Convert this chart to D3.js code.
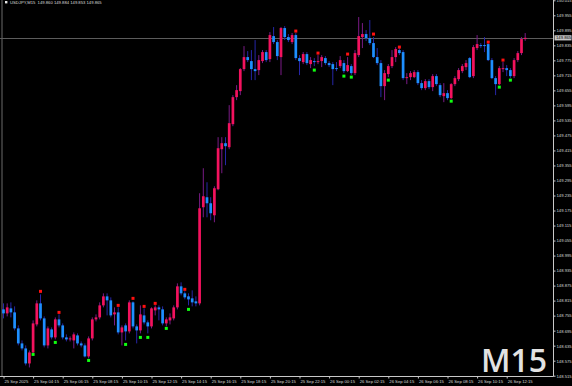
<!DOCTYPE html>
<html>
<head>
<meta charset="utf-8">
<script src="https://cdn.jsdelivr.net/npm/d3@7"></script>
<style>
body { margin: 0; background: #000; }
svg { display: block; }
</style>
</head>
<body>
<svg id="chart" width="572" height="386"></svg>
<script>
// USDJPY M15 bars, 25 Sep 02:15 .. 26 Sep 13:30 (one value per bar)
var opens = [
148.780,148.764,148.784,148.768,148.704,148.644,148.624,148.564,148.608,148.720,
148.804,148.744,148.636,148.700,148.668,148.740,148.716,148.668,148.660,148.656,
148.676,148.644,148.636,148.592,148.664,148.740,148.748,148.796,148.832,148.816,
148.760,148.768,148.688,148.716,148.692,148.808,148.712,148.696,148.756,148.728,
148.712,148.776,148.788,148.780,148.724,148.736,148.744,148.788,148.872,148.844,
148.832,148.824,148.812,148.804,149.188,149.228,149.204,149.156,149.260,149.420,
149.444,149.428,149.520,149.628,149.652,149.740,149.788,149.772,149.740,149.736,
149.772,149.808,149.780,149.872,149.848,149.788,149.904,149.868,149.848,149.876,
149.784,149.768,149.800,149.760,149.772,149.768,149.772,149.784,149.764,149.760,
149.744,149.752,149.764,149.732,149.752,149.724,149.796,149.868,149.880,149.864,
149.844,149.788,149.764,149.672,149.720,149.752,149.788,149.816,149.808,149.704,
149.708,149.708,149.728,149.684,149.664,149.692,149.668,149.712,149.676,149.632,
149.644,149.624,149.680,149.700,149.732,149.748,149.784,149.712,149.824,149.836,
149.836,149.840,149.776,149.704,149.680,149.740,149.744,149.736,149.712,149.776,
149.804,149.860];
var highs = [
148.804,148.804,148.808,148.792,148.716,148.656,148.636,148.616,148.736,148.816,
148.840,148.752,148.712,148.708,148.748,148.760,148.724,148.680,148.672,148.688,
148.684,148.652,148.644,148.672,148.748,148.760,148.808,148.844,148.844,148.828,
148.788,148.788,148.716,148.724,148.816,148.812,148.720,148.796,148.784,148.736,
148.788,148.796,148.796,148.792,148.748,148.764,148.796,148.884,148.888,148.852,
148.844,148.856,148.832,149.244,149.344,149.288,149.228,149.272,149.468,149.468,
149.468,149.596,149.636,149.676,149.744,149.832,149.812,149.816,149.856,149.796,
149.816,149.816,149.888,149.908,149.856,149.908,149.912,149.880,149.884,149.884,
149.796,149.808,149.808,149.788,149.784,149.796,149.796,149.792,149.772,149.768,
149.768,149.792,149.776,149.788,149.760,149.816,149.948,149.924,149.896,149.936,
149.868,149.824,149.776,149.736,149.760,149.816,149.828,149.824,149.816,149.724,
149.732,149.736,149.736,149.696,149.700,149.700,149.720,149.720,149.684,149.684,
149.656,149.684,149.712,149.744,149.760,149.776,149.788,149.836,149.876,149.844,
149.868,149.844,149.784,149.712,149.752,149.768,149.756,149.744,149.784,149.812,
149.868,149.884];
var lows = [
148.744,148.752,148.748,148.696,148.636,148.616,148.556,148.548,148.604,148.712,
148.736,148.628,148.624,148.660,148.660,148.708,148.660,148.652,148.652,148.624,
148.636,148.628,148.588,148.584,148.656,148.732,148.740,148.788,148.756,148.748,
148.716,148.680,148.636,148.656,148.684,148.704,148.644,148.684,148.720,148.684,
148.704,148.756,148.736,148.716,148.712,148.720,148.736,148.780,148.836,148.820,
148.796,148.792,148.792,148.796,149.148,149.148,149.136,149.128,149.256,149.324,
149.356,149.420,149.512,149.616,149.636,149.732,149.768,149.696,149.696,149.716,
149.764,149.768,149.768,149.840,149.776,149.716,149.856,149.848,149.840,149.776,
149.716,149.760,149.756,149.744,149.752,149.760,149.748,149.756,149.748,149.676,
149.732,149.744,149.724,149.728,149.716,149.716,149.788,149.824,149.852,149.836,
149.784,149.756,149.628,149.616,149.708,149.744,149.768,149.796,149.696,149.680,
149.696,149.704,149.676,149.656,149.656,149.660,149.652,149.672,149.628,149.608,
149.616,149.620,149.672,149.692,149.724,149.736,149.704,149.704,149.816,149.824,
149.808,149.772,149.700,149.636,149.676,149.728,149.712,149.704,149.704,149.768,
149.796,149.853];
var closes = [
148.764,148.788,148.768,148.704,148.644,148.624,148.564,148.608,148.724,148.804,
148.744,148.636,148.704,148.668,148.740,148.716,148.668,148.660,148.664,148.680,
148.644,148.636,148.592,148.664,148.740,148.748,148.796,148.832,148.816,148.756,
148.768,148.688,148.708,148.692,148.808,148.712,148.696,148.760,148.728,148.712,
148.784,148.788,148.780,148.724,148.740,148.748,148.788,148.872,148.844,148.828,
148.820,148.808,148.804,149.184,149.232,149.204,149.164,149.264,149.424,149.444,
149.432,149.524,149.628,149.656,149.740,149.788,149.776,149.740,149.732,149.776,
149.808,149.776,149.876,149.848,149.792,149.904,149.868,149.856,149.876,149.784,
149.772,149.800,149.764,149.776,149.768,149.772,149.788,149.764,149.756,149.740,
149.740,149.776,149.732,149.756,149.724,149.804,149.872,149.880,149.864,149.844,
149.788,149.764,149.672,149.724,149.752,149.788,149.820,149.804,149.704,149.708,
149.724,149.728,149.684,149.664,149.692,149.668,149.712,149.680,149.636,149.644,
149.624,149.680,149.704,149.736,149.752,149.764,149.708,149.828,149.840,149.832,
149.832,149.776,149.704,149.680,149.744,149.744,149.736,149.712,149.776,149.804,
149.860,149.865];

// signal dots (red above, green below): bar index + price
var upIdx = [10,15,31,35,38,41,49,79,85,93,100,107,131,135];
var upVal = [148.852,148.768,148.796,148.824,148.792,148.804,148.860,149.892,149.804,149.800,149.880,149.828,149.848,149.776];
var dnIdx = [8,14,23,33,37,39,44,50,84,92,94,104,121,134,137];
var dnVal = [148.600,148.648,148.576,148.640,148.668,148.668,148.704,148.780,149.736,149.712,149.708,149.696,149.612,149.668,149.696];

var priceTicks = [150.015,149.955,149.895,149.835,149.775,149.715,149.655,149.595,149.535,149.475,
  149.415,149.355,149.295,149.235,149.175,149.115,149.055,148.995,148.935,148.875,
  148.815,148.755,148.695,148.635,148.575,148.515];
var timeIdx = [0,8,16,24,32,40,48,56,64,72,80,88,96,104,112,120,128,136];
var timeLabels = ["25 Sep 2025","25 Sep 04:15","25 Sep 06:15","25 Sep 08:15","25 Sep 10:15",
  "25 Sep 12:15","25 Sep 14:15","25 Sep 16:15","25 Sep 18:15","25 Sep 20:15","25 Sep 22:15",
  "26 Sep 00:15","26 Sep 02:15","26 Sep 04:15","26 Sep 06:15","26 Sep 08:15","26 Sep 10:15","26 Sep 12:15"];
var bidPrice = 149.865;
var title = "USDJPY,M15  149.860 149.884 149.853 149.865";

var W = 572, H = 386;
var axisX = 553.5, axisY = 376.5;
var bullBody = "#f3125e", bearBody = "#1e8fff";
var bullWick = "#7a1b86", bearWick = "#2626a6";

var svg = d3.select("#chart");
svg.append("rect").attr("width", W).attr("height", H).attr("fill", "#000");

var x = d3.scaleLinear().domain([0, 141]).range([3.5, 525.2]);
var y = d3.scaleLinear().domain([148.515, 149.955]).range([375.7, 15.3]);

var bars = opens.map(function(o, i) {
  return {i: i, o: o, h: highs[i], l: lows[i], c: closes[i]};
});

svg.append("clipPath").attr("id", "plot")
  .append("rect").attr("x", 0).attr("y", 0).attr("width", axisX).attr("height", axisY);

var plot = svg.append("g").attr("clip-path", "url(#plot)");

// left border + bid line
plot.append("line").attr("x1", 2).attr("x2", 2).attr("y1", 0).attr("y2", axisY)
  .attr("stroke", "#6a6a6a").attr("stroke-width", 1);
plot.append("line").attr("x1", 0).attr("x2", axisX)
  .attr("y1", Math.round(y(bidPrice)) + 0.5).attr("y2", Math.round(y(bidPrice)) + 0.5)
  .attr("stroke", "#5c5c5c").attr("stroke-width", 1);

// wicks
plot.selectAll(".wick").data(bars).enter().append("line")
  .attr("x1", function(d) { return x(d.i); })
  .attr("x2", function(d) { return x(d.i); })
  .attr("y1", function(d) { return y(d.h); })
  .attr("y2", function(d) { return y(d.l); })
  .attr("stroke", function(d) { return d.c >= d.o ? bullWick : bearWick; })
  .attr("stroke-width", 1);

// bodies
var bw = 2.7;
plot.selectAll(".body").data(bars).enter().append("rect")
  .attr("x", function(d) { return x(d.i) - bw / 2; })
  .attr("width", bw)
  .attr("y", function(d) { return y(Math.max(d.o, d.c)); })
  .attr("height", function(d) { return Math.max(1, Math.abs(y(d.o) - y(d.c))); })
  .attr("fill", function(d) { return d.c >= d.o ? bullBody : bearBody; });

// dots
plot.selectAll(".up").data(upIdx).enter().append("rect")
  .attr("x", function(d) { return x(d) - 1.5; })
  .attr("y", function(d, k) { return y(upVal[k]) - 1.5; })
  .attr("width", 3).attr("height", 3).attr("fill", "#ff1010");
plot.selectAll(".dn").data(dnIdx).enter().append("rect")
  .attr("x", function(d) { return x(d) - 1.5; })
  .attr("y", function(d, k) { return y(dnVal[k]) - 1.5; })
  .attr("width", 3).attr("height", 3).attr("fill", "#10ff10");

// axes
var font = "'Liberation Sans', Arial, sans-serif";
var yAxis = svg.append("g").attr("transform", "translate(" + axisX + ",0)")
  .call(d3.axisRight(y).tickValues(priceTicks).tickSize(2).tickPadding(1)
    .tickFormat(d3.format(".3f")));
yAxis.select(".domain").remove();
yAxis.selectAll("line").attr("stroke", "#c8c8c8");
yAxis.selectAll("text").attr("fill", "#d8d8d8").style("font-family", font).style("font-size", "4.2px");

var xAxis = svg.append("g").attr("transform", "translate(0," + axisY + ")")
  .call(d3.axisBottom(x).tickValues(timeIdx).tickSize(2)
    .tickFormat(function(d, k) { return timeLabels[k]; }));
xAxis.select(".domain").remove();
xAxis.selectAll("line").attr("stroke", "#c8c8c8");
xAxis.selectAll("text").attr("fill", "#d8d8d8").attr("text-anchor", "start")
  .attr("x", 0.5).attr("y", 3.5)
  .style("font-family", font).style("font-size", "4.2px");

svg.append("line").attr("x1", axisX).attr("x2", axisX).attr("y1", 0).attr("y2", axisY)
  .attr("stroke", "#c8c8c8");
svg.append("line").attr("x1", 0).attr("x2", axisX).attr("y1", axisY).attr("y2", axisY)
  .attr("stroke", "#c8c8c8");

// bid label on the price scale
var by = y(bidPrice);
svg.append("rect").attr("x", axisX + 1).attr("y", by - 2.6).attr("width", 17).attr("height", 5.2)
  .attr("fill", "#c4c4c4");
svg.append("text").attr("x", axisX + 2.5).attr("y", by).attr("dy", "0.35em")
  .attr("fill", "#000").style("font-family", font).style("font-size", "4.2px")
  .text(d3.format(".3f")(bidPrice));

// title
svg.append("rect").attr("x", 5).attr("y", 1).attr("width", 2.4).attr("height", 2.4).attr("fill", "#e8e8e8");
svg.append("text").attr("x", 10).attr("y", 4.2).attr("fill", "#dcdcdc")
  .style("font-family", font).style("font-size", "4.2px").style("white-space", "pre")
  .attr("xml:space", "preserve").text(title);

// timeframe watermark
svg.append("text").attr("x", 547).attr("y", 371.5).attr("text-anchor", "end")
  .attr("fill", "#e2e2e2").style("font-family", "'Open Sans', sans-serif")
  .style("font-weight", "600").style("font-size", "32px").text("M15");
</script>
</body>
</html>
